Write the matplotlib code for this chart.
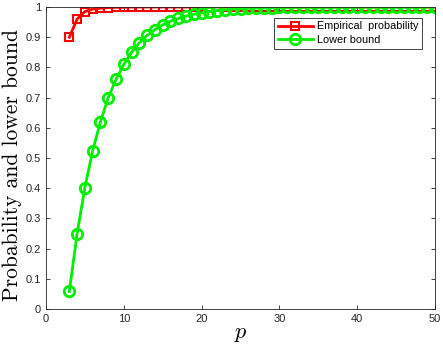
import matplotlib
matplotlib.use("Agg")
import matplotlib.pyplot as plt

p_vals = list(range(3, 51))

empirical = [0.900, 0.960, 0.985, 0.993, 0.996, 0.998, 0.999, 0.999] + [1.0] * 40

lower_bound = [0.058, 0.250, 0.402, 0.524, 0.620, 0.700, 0.760, 0.810, 0.850,
               0.882, 0.906, 0.925, 0.941, 0.953, 0.962, 0.970, 0.976, 0.981,
               0.985, 0.988, 0.991, 0.993, 0.995, 0.996, 0.997, 0.9975, 0.998,
               0.9985, 0.9988, 0.999, 0.9992, 0.9993, 0.9994, 0.9995, 0.9996,
               0.9996, 0.9997, 0.9997, 0.9998, 0.9998, 0.9998, 0.9999, 0.9999,
               0.9999, 0.9999, 0.9999, 1.0, 1.0]

plt.rcParams["mathtext.fontset"] = "cm"

fig = plt.figure(figsize=(4.43, 3.53), dpi=100)
ax = fig.add_axes([46 / 443, 44 / 353, 389 / 443, 302 / 353])

ax.plot(p_vals, empirical, "-s", color="#ff0000", lw=2, ms=5.5,
        mfc="none", mew=1.5, label="Empirical  probability")
ax.plot(p_vals, lower_bound, "-o", color="#00ee00", lw=2, ms=7.5,
        mfc="none", mew=2, label="Lower bound")

ax.set_xlim(0, 50)
ax.set_ylim(0, 1)
ax.set_xticks(range(0, 51, 10))
ax.set_yticks([i / 10 for i in range(11)])
ax.set_yticklabels(["0", "0.1", "0.2", "0.3", "0.4", "0.5", "0.6", "0.7",
                    "0.8", "0.9", "1"])
ax.tick_params(direction="in", top=True, right=True, labelsize=8,
               length=3, width=0.6, colors="#262626")
for tl in ax.get_xticklabels() + ax.get_yticklabels():
    tl.set_fontfamily("Liberation Sans")
for s in ax.spines.values():
    s.set_linewidth(0.6)
    s.set_color("#262626")

ax.set_xlabel("$p$", fontsize=16, labelpad=0)
ax.set_ylabel("Probability and lower bound", fontsize=15.5,
              fontfamily="cmr10")
ax.yaxis.set_label_coords(-0.062, 0.477)

leg = ax.legend(loc="upper right", bbox_to_anchor=(0.967, 0.965),
                prop={"family": "Liberation Sans", "size": 7.8},
                fancybox=False, edgecolor="#262626", framealpha=1,
                borderpad=0.35, labelspacing=0.35, handlelength=3.2,
                handletextpad=0.4, borderaxespad=0)
leg.get_frame().set_linewidth(0.6)

fig.savefig("out.png", dpi=100)
